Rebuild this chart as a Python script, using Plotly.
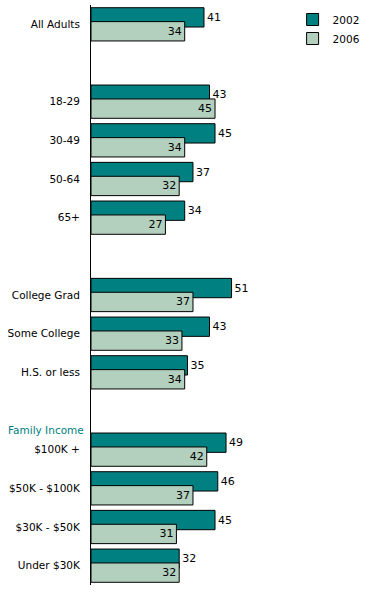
import plotly.graph_objects as go

categories = ["All Adults", "18-29", "30-49", "50-64", "65+",
              "College Grad", "Some College", "H.S. or less",
              "$100K +", "$50K - $100K", "$30K - $50K", "Under $30K"]
slots = [0, 2, 3, 4, 5, 7, 8, 9, 11, 12, 13, 14]
v2002 = [41, 43, 45, 37, 34, 51, 43, 35, 49, 46, 45, 32]
v2006 = [34, 45, 34, 32, 27, 37, 33, 34, 42, 37, 31, 32]

DARK = "#008080"
LIGHT = "#b3d0bf"
FONT = "DejaVu Sans"

fig = go.Figure()
fig.add_trace(go.Bar(
    name="2002", y=slots, x=v2002, orientation="h",
    width=0.5, offset=-0.43,
    marker=dict(color=DARK, line=dict(color="black", width=1)),
    text=[str(v) for v in v2002], textposition="outside",
    textfont=dict(family=FONT, size=11, color="black"),
    cliponaxis=False, hoverinfo="skip",
))
fig.add_trace(go.Bar(
    name="2006", y=slots, x=v2006, orientation="h",
    width=0.5, offset=-0.07,
    marker=dict(color=LIGHT, line=dict(color="black", width=1)),
    text=[str(v) for v in v2006], textposition="inside",
    insidetextanchor="end",
    textfont=dict(family=FONT, size=11, color="black"),
    cliponaxis=False, hoverinfo="skip",
))

fig.add_annotation(
    text="Family Income", xref="paper", yref="y",
    x=-0.018, y=10.49, xanchor="right", yanchor="middle",
    showarrow=False, font=dict(family=FONT, size=10.5, color=DARK),
)

fig.update_layout(
    width=375, height=595,
    margin=dict(l=91, r=4, t=5, b=10, autoexpand=False),
    paper_bgcolor="white", plot_bgcolor="white",
    barmode="overlay",
    showlegend=True,
    legend=dict(x=0.72, y=1.0, xanchor="left", yanchor="top",
                font=dict(family=FONT, size=10.5, color="black"),
                bgcolor="rgba(0,0,0,0)", traceorder="normal",
                itemwidth=30, tracegroupgap=0),
)
fig.update_xaxes(range=[0, 101.6], visible=False, fixedrange=True, automargin=False)
fig.update_yaxes(
    range=[14.5, -0.5], tickmode="array", tickvals=slots, ticktext=categories,
    showline=True, linecolor="black", linewidth=1, showgrid=False,
    zeroline=False, ticks="", ticklabelstandoff=8, automargin=False,
    fixedrange=True, tickfont=dict(family=FONT, size=10.5, color="black"),
)

fig.write_html("out.html", config={"displayModeBar": False},
               post_script="document.body.style.margin='0px';document.body.style.overflow='hidden';")
